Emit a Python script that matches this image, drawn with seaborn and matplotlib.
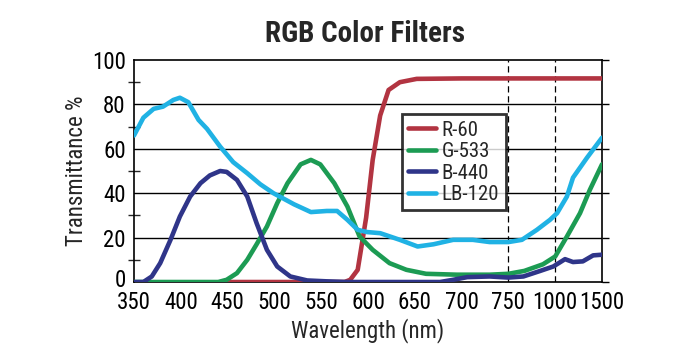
import numpy as np
import pandas as pd
import matplotlib
matplotlib.use('Agg')
import matplotlib.pyplot as plt
import matplotlib.transforms as mtransforms
import seaborn as sns

sns.set_style('white')
plt.rcParams['font.family'] = ['Roboto Condensed', 'DejaVu Sans Condensed', 'Roboto', 'DejaVu Sans']

# tick positions on the (uneven) wavelength axis
tick_nm = [350, 400, 450, 500, 550, 600, 650, 700, 750, 1000, 1500]
tick_labels = ['350', '400', '450', '500', '550', '600', '650', '700', '750', '1000', '1500']

r60_nm = [445, 560, 575, 581, 589, 598, 605, 613, 622, 634, 652, 700, 750, 1000, 1500]
r60_t = [0, 0, 0, 1, 5.5, 29, 55, 75, 86.5, 90, 91.5, 91.7, 91.7, 91.7, 91.7]

g533_nm = [350, 400, 440, 449, 460, 471, 481, 492, 503, 514, 528, 539, 549, 564, 570, 578,
           591, 605, 623, 641, 662, 695, 730, 750, 835, 935, 1000, 1125, 1265, 1370, 1500]
g533_t = [0, 0, 0, 1, 4, 10, 17, 25, 35.5, 44.5, 53, 55, 53, 44.5, 40, 34,
          20.5, 14.5, 8.5, 5.5, 3.7, 3.3, 3.3, 3.7, 5, 8, 11.5, 20.5, 31, 41.5, 53]

b440_nm = [350, 360, 369, 378, 389, 399, 410, 421, 431, 442, 449, 460, 471, 481, 492, 503,
           517, 535, 556, 578, 677, 691, 706, 730, 750, 830, 920, 990, 1105, 1190, 1295, 1405, 1500]
b440_t = [0, 0, 2.5, 8.5, 19, 29.5, 38.5, 44.5, 48, 50, 49.6, 46, 38.5, 26.5, 14.5, 7,
          2.5, 0.7, 0.3, 0, 0, 1, 2.2, 2.5, 2, 2.5, 5, 7, 10.3, 9, 9.3, 12, 12.3]

lb120_nm = [350, 360, 371, 381, 392, 399, 408, 419, 428, 442, 456, 471, 485, 499, 521, 539,
            556, 567, 578, 589, 599, 613, 634, 653, 670, 691, 712, 730, 750, 822, 902, 972,
            1020, 1125, 1190, 1340, 1500]
lb120_t = [66, 74, 78, 79, 82, 83, 81, 73, 69, 61, 54, 49, 44, 40, 35, 31.5,
           32, 32, 28, 23.5, 22.5, 22, 19, 16, 17, 19, 19, 18, 18, 19, 23.5, 28,
           31, 38.5, 47, 56, 65]

names = ['R-60', 'G-533', 'B-440', 'LB-120']
colors = ['#B23441', '#1C9B53', '#2F3589', '#20B2E4']

frames = []
for name, xs, ys in zip(names, [r60_nm, g533_nm, b440_nm, lb120_nm],
                        [r60_t, g533_t, b440_t, lb120_t]):
    frames.append(pd.DataFrame({'nm': xs, 'T': ys, 'filter': name}))
df = pd.concat(frames, ignore_index=True)

idx = np.arange(len(tick_nm))
fwd = lambda x: np.interp(x, tick_nm, idx)
inv = lambda x: np.interp(x, idx, tick_nm)

fig = plt.figure(figsize=(6.95, 3.63), dpi=100)
ax = fig.add_axes([0.1928, 0.2231, 0.6734, 0.6116])
ax.set_xscale('function', functions=(fwd, inv))

for v in [20, 40, 60, 80]:
    ax.axhline(v, color='black', lw=1.0, zorder=1)
for v in [750, 1000]:
    ax.axvline(v, color='black', lw=0.9, ls=(0, (5, 3)), zorder=1)

sns.lineplot(data=df, x='nm', y='T', hue='filter', hue_order=names,
             palette=dict(zip(names, colors)), estimator=None, sort=False,
             lw=3.3, ax=ax, zorder=3)

ax.set_xlim(350, 1500)
ax.set_ylim(0, 100)
ax.set_xticks(tick_nm)
ax.set_xticklabels(tick_labels)
ax.set_yticks([0, 20, 40, 60, 80, 100])
ax.set_yticks([10, 30, 50, 70, 90], minor=True)
ax.tick_params(axis='both', which='major', labelsize=16.5, length=5, width=1,
               direction='out', colors='black', pad=1)
ax.tick_params(axis='x', which='major', length=4, pad=2.5)
ax.tick_params(axis='y', which='minor', length=8, width=1, direction='inout', left=True)
ax.tick_params(axis='x', which='minor', bottom=False)
ax.tick_params(axis='y', right=True, labelright=False)
for s in ax.spines.values():
    s.set_color('black')
    s.set_linewidth(1.2)

# nudge the "0" label up a little, as in the original
lab0 = ax.get_yticklabels()[0]
lab0.set_transform(lab0.get_transform() + mtransforms.ScaledTranslation(0, 3 / 72, fig.dpi_scale_trans))

ax.set_xlabel('Wavelength (nm)', fontsize=16.5, labelpad=3)
ax.set_ylabel('Transmittance %', fontsize=16.5, labelpad=3)
fig.suptitle('RGB Color Filters', fontsize=21, fontweight='bold', x=0.525, y=0.945)

leg = ax.legend(loc='upper left', bbox_to_anchor=(0.573, 0.755), frameon=True,
                fancybox=False, edgecolor='black', fontsize=15, handlelength=1.3,
                labelspacing=0.12, borderpad=0.3, handletextpad=0.3, borderaxespad=0)
leg.get_frame().set_linewidth(2)

fig.savefig('out.png', dpi=100)
